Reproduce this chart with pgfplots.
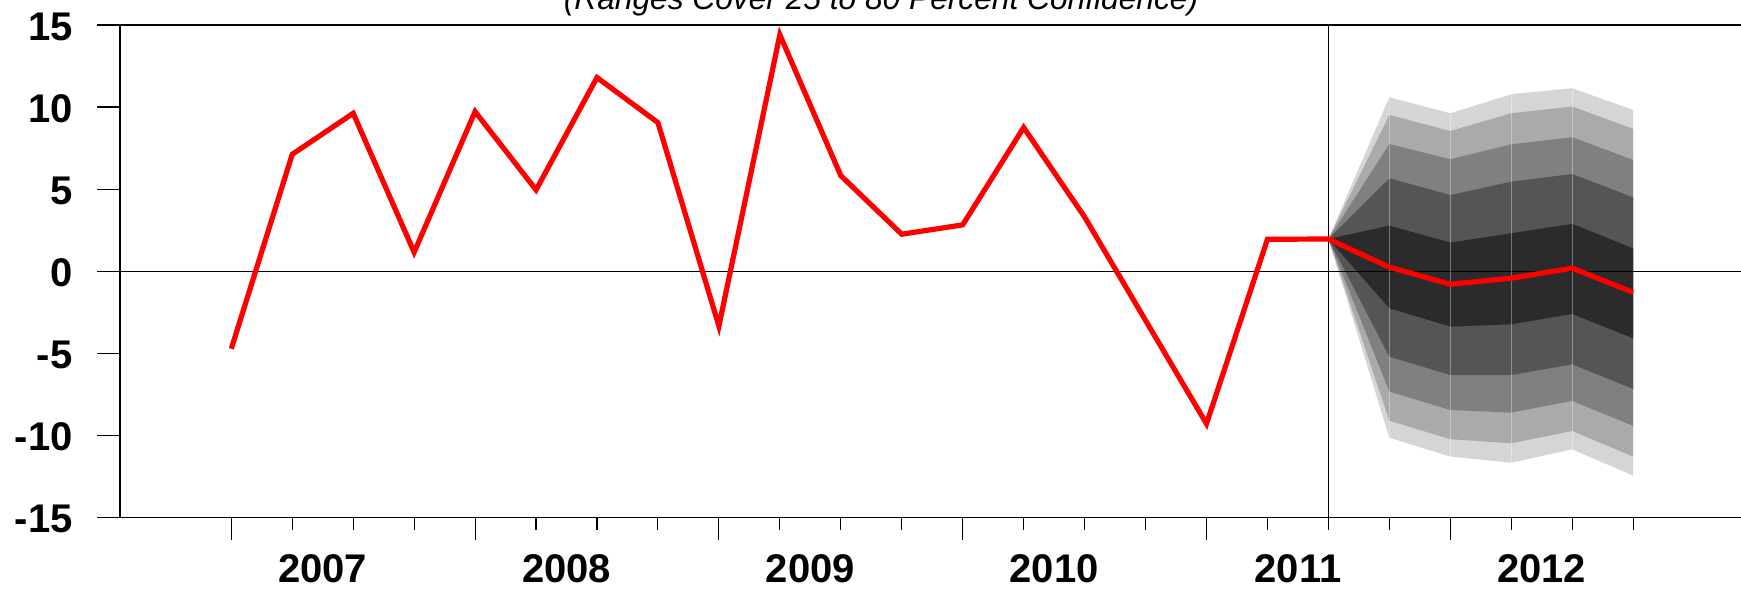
\documentclass[border=0pt]{standalone}
\usepackage{fontspec}
\setmainfont{Liberation Sans}
\usepackage{pgfplots}
\pgfplotsset{compat=1.18}
\usepackage{pgfplotstable}
\usepgfplotslibrary{fillbetween}

\definecolor{fanA}{HTML}{D5D5D5}
\definecolor{fanB}{HTML}{AAAAAA}
\definecolor{fanC}{HTML}{808080}
\definecolor{fanD}{HTML}{555555}
\definecolor{fanE}{HTML}{2B2B2B}

\pgfplotstableread{
x y
0 -4.73
1 7.12
2 9.62
3 1.15
4 9.72
5 4.95
6 11.8
7 9.05
8 -3.35
9 14.4
10 5.82
11 2.25
12 2.82
13 8.75
14 3.3
15 -3.0
16 -9.3
17 1.94
18 1.96
19 0.24
20 -0.80
21 -0.43
22 0.18
23 -1.29
}\actual

\pgfplotstableread{
x a1 a2 a3 a4 a5 b1 b2 b3 b4 b5
18 1.96 1.96 1.96 1.96 1.96 1.96 1.96 1.96 1.96 1.96
19 10.60 9.52 7.75 5.66 2.77 -10.15 -9.11 -7.34 -5.21 -2.26
20 9.62 8.54 6.82 4.64 1.74 -11.30 -10.24 -8.46 -6.33 -3.38
21 10.78 9.62 7.73 5.45 2.31 -11.67 -10.49 -8.62 -6.33 -3.24
22 11.15 10.03 8.16 5.92 2.88 -10.86 -9.74 -7.91 -5.68 -2.61
23 9.82 8.67 6.78 4.50 1.39 -12.46 -11.30 -9.43 -7.18 -4.09
}\fan

\begin{document}
\begin{tikzpicture}
\begin{axis}[
  at={(120pt,71.7pt)}, anchor=south west,
  scale only axis, width=1621pt, height=492.3pt,
  xmin=-1.826, xmax=24.77, ymin=-15, ymax=15,
  axis x line=box, axis y line=left,
  axis line style={-, black, line width=1.1pt},
  tick pos=left, tick align=outside,
  tick style={black, line width=1.1pt},
  major tick length=23pt, minor tick length=12.7pt,
  xtick={0,4,8,12,16,20}, xticklabels={},
  minor xtick={1,2,3,5,6,7,9,10,11,13,14,15,17,18,19,21,22,23},
  extra x ticks={1.5,5.5,9.5,13.5,17.5,21.5},
  extra x tick labels={2007,2008,2009,2010,2011,2012},
  extra x tick style={major tick length=0pt},
  ytick={-15,-10,-5,0,5,10,15},
  yticklabels={-15,-10,-5,0,5,10,15},
  ticklabel style={font=\bfseries\fontsize{40}{40}\selectfont},
  xticklabel style={anchor=north, inner sep=0pt, yshift=-36.7pt},
  yticklabel style={anchor=east, inner sep=0pt, xshift=-24.3pt, yshift=-1.5pt},
]
\draw[black, line width=1.1pt] (axis cs:-1.826,0) -- (axis cs:24.77,0);
\draw[black, line width=1.1pt] (axis cs:18,-15) -- (axis cs:18,15);

\addplot[name path=a1, draw=none, forget plot] table[x=x, y=a1] {\fan};
\addplot[name path=a2, draw=none, forget plot] table[x=x, y=a2] {\fan};
\addplot[name path=a3, draw=none, forget plot] table[x=x, y=a3] {\fan};
\addplot[name path=a4, draw=none, forget plot] table[x=x, y=a4] {\fan};
\addplot[name path=a5, draw=none, forget plot] table[x=x, y=a5] {\fan};
\addplot[name path=b1, draw=none, forget plot] table[x=x, y=b1] {\fan};
\addplot[name path=b2, draw=none, forget plot] table[x=x, y=b2] {\fan};
\addplot[name path=b3, draw=none, forget plot] table[x=x, y=b3] {\fan};
\addplot[name path=b4, draw=none, forget plot] table[x=x, y=b4] {\fan};
\addplot[name path=b5, draw=none, forget plot] table[x=x, y=b5] {\fan};
\addplot[fanA, draw=none] fill between[of=a1 and b1];
\addplot[fanB, draw=none] fill between[of=a2 and b2];
\addplot[fanC, draw=none] fill between[of=a3 and b3];
\addplot[fanD, draw=none] fill between[of=a4 and b4];
\addplot[fanE, draw=none] fill between[of=a5 and b5];

\addplot[white, draw opacity=0.35, line width=1pt] coordinates {(19,-10.15) (19,10.60)};
\addplot[white, draw opacity=0.35, line width=1pt] coordinates {(20,-11.30) (20,9.62)};
\addplot[white, draw opacity=0.35, line width=1pt] coordinates {(21,-11.67) (21,10.78)};
\addplot[white, draw opacity=0.35, line width=1pt] coordinates {(22,-10.86) (22,11.15)};

\addplot[red, line width=5.2pt, line join=miter, mark=none] table[x=x, y=y] {\actual};
\end{axis}
\node[font=\itshape\fontsize{31.7}{31.7}\selectfont, anchor=base] at (881pt,579pt) {(Ranges Cover 25 to 80 Percent Confidence)};
\pgfresetboundingbox
\path[use as bounding box] (0,0) rectangle (1741pt,589pt);
\end{tikzpicture}
\end{document}
